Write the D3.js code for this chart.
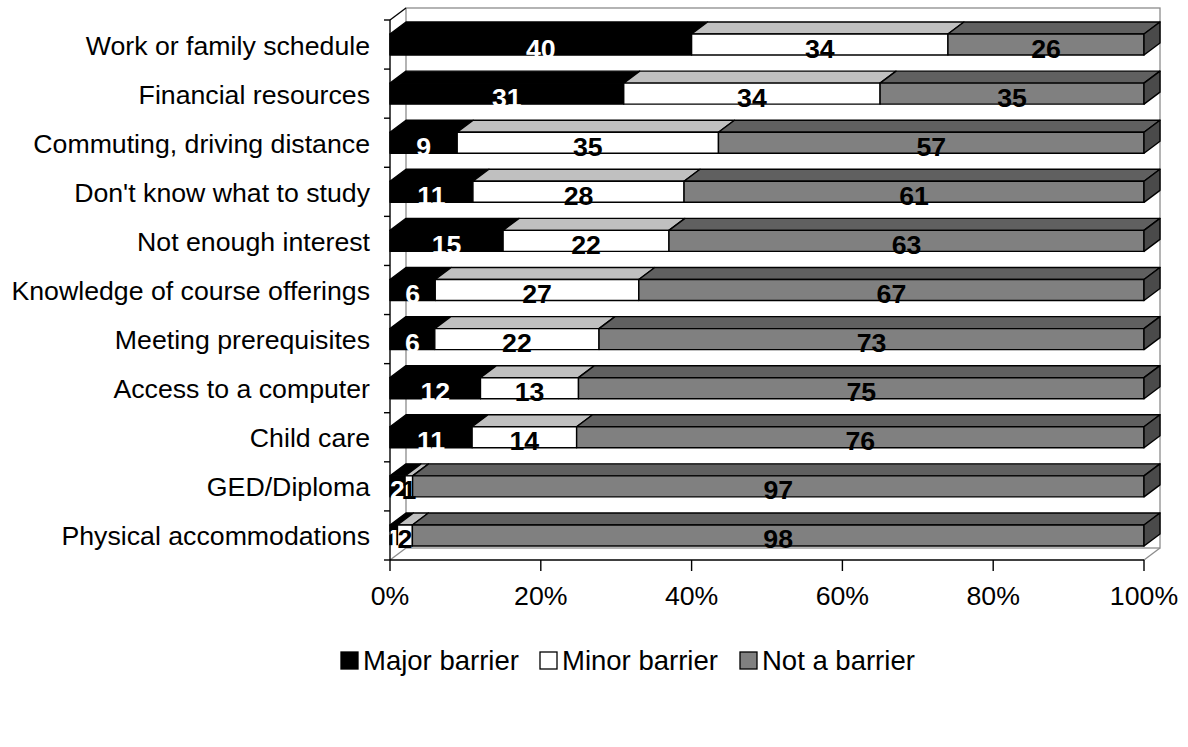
<!DOCTYPE html>
<html>
<head>
<meta charset="utf-8">
<script src="https://cdn.jsdelivr.net/npm/d3@7"></script>
<style>
  html, body { margin: 0; padding: 0; background: #fff; }
  svg { display: block; font-family: "Liberation Sans", Arial, sans-serif; }
</style>
</head>
<body>
<svg id="chart" width="1188" height="747"></svg>
<script>
// Barriers to enrollment, percent of respondents per answer
const categories = [
  "Work or family schedule",
  "Financial resources",
  "Commuting, driving distance",
  "Don't know what to study",
  "Not enough interest",
  "Knowledge of course offerings",
  "Meeting prerequisites",
  "Access to a computer",
  "Child care",
  "GED/Diploma",
  "Physical accommodations"
];
const majorBarrier = [40, 31, 9, 11, 15, 6, 6, 12, 11, 2, 1];
const minorBarrier = [34, 34, 35, 28, 22, 27, 22, 13, 14, 1, 2];
const notABarrier  = [26, 35, 57, 61, 63, 67, 73, 75, 76, 97, 98];
const seriesNames  = ["Major barrier", "Minor barrier", "Not a barrier"];
const xTickValues  = [0, 20, 40, 60, 80, 100];

// face colours per series: front, top, side
const faces = [
  { front: "#000000", top: "#000000", side: "#000000", text: "#ffffff" },
  { front: "#ffffff", top: "#c0c0c0", side: "#c0c0c0", text: "#000000" },
  { front: "#808080", top: "#606060", side: "#4a4a4a", text: "#000000" }
];

const svg = d3.select("#chart");
const plotL = 390, plotR = 1144, plotT = 20, plotB = 560;
const dx = 16, dy = 12; // depth offset of the 3-D box
const fontSize = 26.7;

const x = d3.scaleLinear().domain([0, 100]).range([plotL, plotR]);
const y = d3.scaleBand().domain(categories).range([plotT, plotB])
  .paddingInner(0.572).paddingOuter(0.286);

// 100% stacked: normalise each row by its total
const rows = categories.map((c, i) => {
  const vals = [majorBarrier[i], minorBarrier[i], notABarrier[i]];
  const total = d3.sum(vals);
  let acc = 0;
  return vals.map((v, s) => {
    const x0 = acc / total * 100;
    acc += v;
    return { cat: c, series: s, value: v, x0, x1: acc / total * 100, last: s === 2 };
  });
});

// back wall and floor
const wall = svg.append("g").attr("fill", "none").attr("stroke", "#8c8c8c").attr("stroke-width", 1.3);
wall.append("rect").attr("x", plotL + dx).attr("y", plotT - dy)
  .attr("width", plotR - plotL).attr("height", plotB - plotT);
wall.append("line").attr("x1", plotL).attr("y1", plotB).attr("x2", plotL + dx).attr("y2", plotB - dy);
wall.append("line").attr("x1", plotR).attr("y1", plotB).attr("x2", plotR + dx).attr("y2", plotB - dy);

// left wall top edge
svg.append("line").attr("x1", plotL).attr("y1", plotT).attr("x2", plotL + dx).attr("y2", plotT - dy)
  .attr("stroke", "#000").attr("stroke-width", 1.3);

// bars
const barsG = svg.append("g").attr("stroke", "#000").attr("stroke-width", 1.4).attr("stroke-linejoin", "round");
rows.forEach(segs => {
  const g = barsG.append("g");
  segs.forEach(d => {
    const xa = x(d.x0), xb = x(d.x1);
    const yt = y(d.cat), yb = y(d.cat) + y.bandwidth();
    const f = faces[d.series];
    // top face
    g.append("path")
      .attr("d", `M${xa},${yt}L${xa + dx},${yt - dy}L${xb + dx},${yt - dy}L${xb},${yt}Z`)
      .attr("fill", f.top);
    // front face
    g.append("rect").attr("x", xa).attr("y", yt).attr("width", xb - xa).attr("height", yb - yt)
      .attr("fill", f.front);
    if (d.last) {
      g.append("path")
        .attr("d", `M${xb},${yt}L${xb + dx},${yt - dy}L${xb + dx},${yb - dy}L${xb},${yb}Z`)
        .attr("fill", f.side);
    }
  });
});

// value labels
const labelsG = svg.append("g").attr("font-size", fontSize).attr("font-weight", "bold").attr("text-anchor", "middle");
rows.forEach(segs => {
  segs.forEach(d => {
    labelsG.append("text")
      .attr("x", (x(d.x0) + x(d.x1)) / 2)
      .attr("y", y(d.cat) + y.bandwidth() / 2 + 13)
      .attr("fill", faces[d.series].text)
      .text(d.value);
  });
});

// category axis
const yAxisG = svg.append("g");
yAxisG.append("line").attr("x1", plotL).attr("x2", plotL).attr("y1", plotT).attr("y2", plotB)
  .attr("stroke", "#000").attr("stroke-width", 1.4);
const bounds = d3.range(categories.length + 1).map(i => plotT + i * y.step());
yAxisG.selectAll(".tk").data(bounds).join("line")
  .attr("x1", plotL - 6).attr("x2", plotL).attr("y1", d => d).attr("y2", d => d)
  .attr("stroke", "#000").attr("stroke-width", 1.4);
yAxisG.selectAll(".cl").data(categories).join("text")
  .attr("x", 370).attr("y", d => y(d) + y.bandwidth() / 2 + 10)
  .attr("text-anchor", "end").attr("font-size", fontSize).attr("fill", "#000")
  .text(d => d);

// value axis
const xAxisG = svg.append("g");
xAxisG.append("line").attr("x1", plotL).attr("x2", plotR).attr("y1", plotB).attr("y2", plotB)
  .attr("stroke", "#000").attr("stroke-width", 1.4);
xAxisG.selectAll(".tk").data(xTickValues).join("line")
  .attr("x1", d => x(d)).attr("x2", d => x(d)).attr("y1", plotB).attr("y2", plotB + 11)
  .attr("stroke", "#000").attr("stroke-width", 1.4);
xAxisG.selectAll(".tl").data(xTickValues).join("text")
  .attr("x", d => x(d)).attr("y", 605)
  .attr("text-anchor", "middle").attr("font-size", fontSize).attr("fill", "#000")
  .text(d => d + "%");

// legend
const legendItems = [
  { name: seriesNames[0], fill: faces[0].front, sx: 341 },
  { name: seriesNames[1], fill: faces[1].front, sx: 540 },
  { name: seriesNames[2], fill: faces[2].front, sx: 740 }
];
const legend = svg.append("g");
legendItems.forEach(it => {
  legend.append("rect").attr("x", it.sx).attr("y", 652).attr("width", 17).attr("height", 17)
    .attr("fill", it.fill).attr("stroke", "#000").attr("stroke-width", 1.3);
  legend.append("text").attr("x", it.sx + 22).attr("y", 670)
    .attr("font-size", 27.5).attr("fill", "#000").text(it.name);
});
</script>
</body>
</html>
